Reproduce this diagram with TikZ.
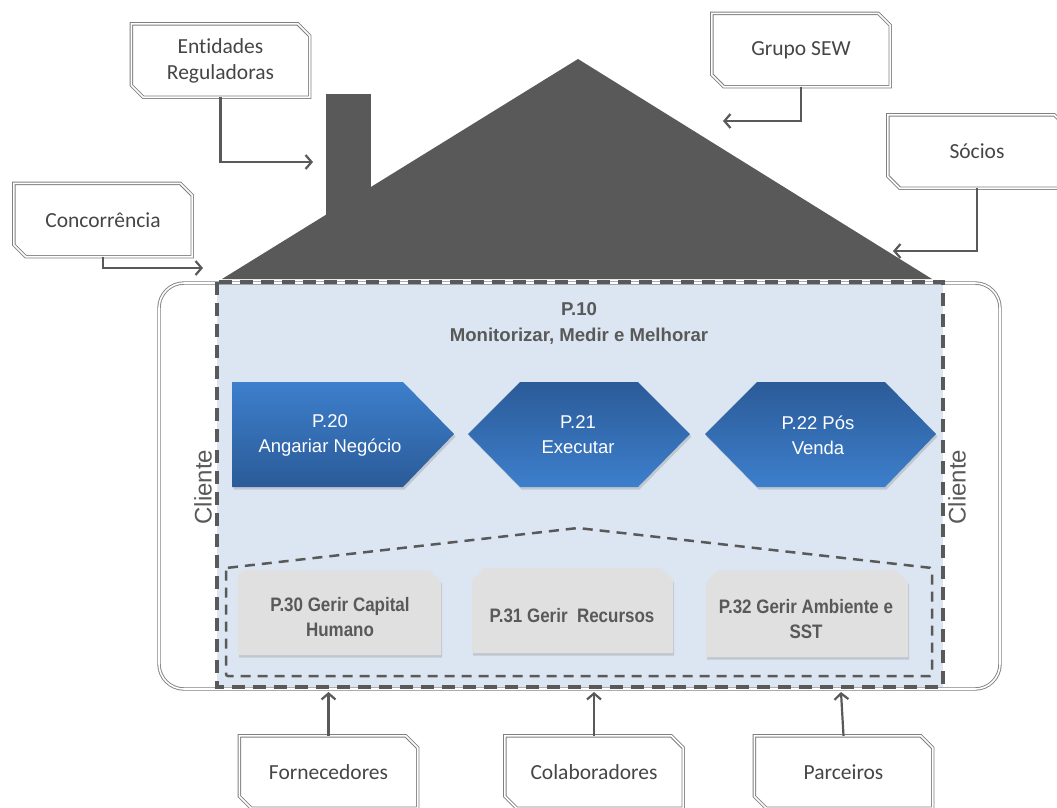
\documentclass[tikz,border=0pt]{standalone}
\usepackage{fontspec}
\setmainfont{Liberation Sans}
\newfontfamily\calfont[Ligatures=NoCommon]{Carlito}
\newfontfamily\narrowfont[FakeStretch=0.87]{Liberation Sans}
\usetikzlibrary{arrows.meta,shadows}
\definecolor{dk}{HTML}{595959}
\definecolor{bluebg}{HTML}{DCE6F2}
\definecolor{bla}{HTML}{3D7FCC}
\definecolor{blb}{HTML}{2B5B98}
\definecolor{boxgray}{HTML}{E0E0E0}
\definecolor{txt}{HTML}{454545}
\definecolor{frame}{HTML}{808080}
\begin{document}
\begin{tikzpicture}[x=1pt,y=-1pt,
  extbox/.style={minimum width=178pt,minimum height=73pt,inner sep=0pt,align=center,
    font=\calfont\fontsize{21.5}{26}\selectfont,text=txt},
  dbl/.style={draw=frame,double=white,line width=0.9pt,double distance=1.6pt},
  conn/.style={draw=dk,line width=2.2pt,-{Straight Barb[length=6pt,width=14pt]}},
  chev/.style={drop shadow={opacity=.3,shadow xshift=1.5pt,shadow yshift=-2.5pt}},
  chevtxt/.style={align=center,text=white,font=\fontsize{18.5}{25}\selectfont,inner sep=0pt},
  gbox/.style={fill=boxgray,drop shadow={opacity=.3,shadow xshift=1pt,shadow yshift=-2.5pt}},
  gtxt/.style={align=center,text=dk,font=\narrowfont\bfseries\fontsize{19.5}{25}\selectfont,inner sep=0pt},
  clitxt/.style={text=dk,font=\fontsize{24}{28}\selectfont,inner sep=0pt,rotate=90}
]
\useasboundingbox (0,0) rectangle (1057,807);

% house
\fill[dk] (326,94) rectangle (371,230);
\fill[dk] (222,279) -- (578,59) -- (932,279) -- cycle;

% body
\fill[bluebg] (217,282) rectangle (943,687);
\draw[dbl,rounded corners=25pt] (159,283) rectangle (1000,689);
\draw[dk,line width=3.5pt,dash pattern=on 13pt off 8pt] (217,282) rectangle (943,687);

\node[text=dk,font=\bfseries\fontsize{18.6}{26}\selectfont,align=center,inner sep=0pt] (p10) at (579,323) {P.10\\Monitorizar, Medir e Melhorar};

% chevrons
\path[chev,top color=bla,bottom color=blb] (232,382) -- (403,382) -- (454,434) -- (403,487) -- (232,487) -- cycle;
\path[chev,top color=blb,bottom color=bla] (468,434) -- (520,382) -- (638,382) -- (690,434) -- (638,487) -- (520,487) -- cycle;
\path[chev,top color=blb,bottom color=bla] (705,434) -- (757,382) -- (885,382) -- (936,434) -- (885,487) -- (757,487) -- cycle;
\node[chevtxt] (p20) at (330,435) {P.20\\Angariar Negócio};
\node[chevtxt] (p21) at (578,435) {P.21\\Executar};
\node[chevtxt] (p22) at (818,435) {P.22 Pós\\Venda};

% support area
\draw[dk,line width=2.5pt,dash pattern=on 10pt off 7pt,rounded corners=2pt] (226,568) -- (578,528) -- (932,568) -- (932,676) -- (226,676) -- cycle;
\path[gbox] (238,575) -- (243,570) -- (430,570) -- (441,581) -- (441,655) -- (238,655) -- cycle;
\path[gbox] (472,580) -- (484,568) -- (661,568) -- (673,580) -- (673,653) -- (472,653) -- cycle;
\path[gbox] (706,582) -- (718,570) -- (896,570) -- (908,582) -- (908,657) -- (706,657) -- cycle;
\node[gtxt] (p30) at (340,617) {P.30 Gerir Capital\\Humano};
\node[gtxt] (p31) at (572,616) {P.31 Gerir~~Recursos};
\node[gtxt] (p32) at (806,619) {P.32 Gerir Ambiente e\\SST};

\node[clitxt] (cl1) at (203,487) {Cliente};
\node[clitxt] (cl2) at (957,487) {Cliente};

% external boxes
\node[extbox] (ent) at (220.5,60.5) {Entidades\\Reguladoras};
\node[extbox] (con) at (103,220) {Concorrência};
\node[extbox] (grp) at (801,50) {Grupo SEW};
\node[extbox] (soc) at (977,151.5) {Sócios};
\node[extbox,minimum height=72pt] (for) at (328.5,772) {Fornecedores};
\node[extbox,minimum height=72pt] (col) at (594,772) {Colaboradores};
\node[extbox,minimum height=72pt] (par) at (843.5,772) {Parceiros};
\foreach \n in {ent,con,grp,soc,for,col,par}
  \draw[dbl] (\n.north west) -- ([xshift=-12pt]\n.north east) -- ([yshift=-12pt]\n.north east)
    -- (\n.south east) -- ([xshift=12pt]\n.south west) -- ([yshift=12pt]\n.south west) -- cycle;

% connectors
\coordinate (entE) at (313,162);
\coordinate (conE) at (203,268);
\coordinate (grpE) at (723,121);
\coordinate (socE) at (893,251);
\coordinate (forE) at (328.5,692);
\coordinate (colE) at (594,692);
\coordinate (parE) at (841,692);
\draw[conn] (ent.south) |- (entE);
\draw[conn] (con.south) |- (conE);
\draw[conn] (grp.south) |- (grpE);
\draw[conn] (soc.south) |- (socE);
\draw[conn] (for.north) -- (forE);
\draw[conn] (col.north) -- (colE);
\draw[conn] (par.north) -- (parE);
\end{tikzpicture}
\end{document}
